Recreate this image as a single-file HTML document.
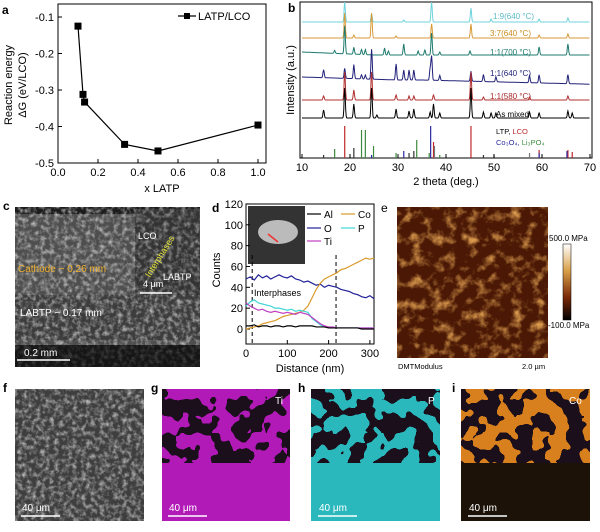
<!DOCTYPE html>
<html><head><meta charset="utf-8">
<style>
body{margin:0;background:#fff;}
svg{display:block;font-family:"Liberation Sans",Arial,sans-serif;}
</style></head>
<body>
<svg id="fig" width="600" height="532" viewBox="0 0 600 532" xmlns="http://www.w3.org/2000/svg">
<defs>
<filter id="semTex" x="0" y="0" width="1" height="1" color-interpolation-filters="sRGB">
 <feTurbulence type="fractalNoise" baseFrequency="0.22" numOctaves="3" seed="3"/>
 <feColorMatrix type="matrix" values="0 0 0 0 0.85  0 0 0 0 0.85  0 0 0 0 0.85  1.6 0 0 0 -0.65"/>
</filter>
<filter id="blotch" x="0" y="0" width="1" height="1" color-interpolation-filters="sRGB">
 <feTurbulence type="fractalNoise" baseFrequency="0.06" numOctaves="2" seed="7"/>
 <feComponentTransfer><feFuncA type="discrete" tableValues="0 0 1 1"/></feComponentTransfer>
 <feColorMatrix type="matrix" values="0 0 0 0 0.1  0 0 0 0 0.06  0 0 0 0 0.1  0 0 0 1 0"/>
</filter>
<filter id="afmTex" x="0" y="0" width="1" height="1" color-interpolation-filters="sRGB">
 <feTurbulence type="fractalNoise" baseFrequency="0.09" numOctaves="4" seed="11"/>
 <feColorMatrix type="matrix" values="0 0 0 0 0.85  0 0 0 0 0.6  0 0 0 0 0.3  2.6 0 0 0 -1.25"/>
</filter>
<linearGradient id="cbar" x1="0" y1="0" x2="0" y2="1">
 <stop offset="0" stop-color="#fff"/><stop offset="0.35" stop-color="#d9a04a"/><stop offset="0.7" stop-color="#7a2a08"/><stop offset="1" stop-color="#000"/>
</linearGradient>
</defs>

<!-- Panel a -->
<g id="pa">
 <text x="2" y="14" font-size="12" font-weight="bold">a</text>
 <rect x="58" y="4" width="208" height="159" fill="none" stroke="#000" stroke-width="1"/>
 <g id="pa-ticks"></g>
 <g id="pa-series"></g>
 <text x="162" y="192" font-size="11" text-anchor="middle">x LATP</text>
 <text transform="translate(12,85) rotate(-90)" font-size="11" text-anchor="middle">Reaction energy</text>
 <text transform="translate(26,85) rotate(-90)" font-size="11" text-anchor="middle">ΔG (eV/LCO)</text>
 <g>
  <line x1="178" y1="16" x2="196" y2="16" stroke="#000" stroke-width="1.2"/>
  <rect x="184" y="13" width="6" height="6" fill="#000"/>
  <text x="198" y="20" font-size="11">LATP/LCO</text>
 </g>
</g>

<!-- Panel b -->
<g id="pb">
 <text x="288" y="12" font-size="12" font-weight="bold">b</text>
 <rect x="300" y="2" width="292" height="156" fill="none" stroke="#000" stroke-width="1"/>
 <g id="pb-ref"></g>
 <g id="pb-series"></g>
 <g id="pb-ticks"></g>
 <text x="446" y="185" font-size="11" text-anchor="middle">2 theta (deg.)</text>
 <text transform="translate(294,80) rotate(-90)" font-size="11" text-anchor="middle">Intensity (a.u.)</text>
 <text x="493" y="19" font-size="8" fill="#5bbbc5">1:9(640 °C)</text>
 <text x="490" y="36" font-size="8" fill="#c98a1d">3:7(640 °C)</text>
 <text x="490" y="55" font-size="8" fill="#1e7a6e">1:1(700 °C)</text>
 <text x="490" y="76" font-size="8" fill="#22227a">1:1(640 °C)</text>
 <text x="490" y="99" font-size="8" fill="#a72b2b">1:1(580 °C)</text>
 <text x="496" y="117" font-size="8" fill="#000">As mixed</text>
 <text x="496" y="134" font-size="7.5"><tspan fill="#000">LTP, </tspan><tspan fill="#c0282a">LCO</tspan></text>
 <text x="496" y="145" font-size="7.5"><tspan fill="#2a2aa0">Co₃O₄, </tspan><tspan fill="#3e8a3e">Li₃PO₄</tspan></text>
</g>

<!-- Panel c -->
<g>
 <text x="3" y="210" font-size="12" font-weight="bold">c</text>
 <rect x="15" y="207" width="185" height="160" fill="#4e4e4e"/>
 <rect x="15" y="207" width="185" height="7" fill="#1c1c1c"/>
 <rect x="15" y="295" width="185" height="45" fill="#3c3c3c"/>
 <rect x="15" y="345" width="185" height="22" fill="#161616"/>
 <rect x="15" y="207" width="185" height="160" filter="url(#semTex)"/>
 <rect x="15" y="345" width="185" height="22" fill="#161616" opacity="0.7"/>
 <rect x="135" y="209" width="65" height="86" fill="#333"/>
 <rect x="135" y="209" width="65" height="86" filter="url(#semTex)" opacity="0.8"/>
 <text x="138" y="239" font-size="9" fill="#fff">LCO</text>
 <text transform="translate(150,278) rotate(-58)" font-size="9" fill="#e8e83c">Interphases</text>
 <text x="163" y="280" font-size="9" fill="#fff">LABTP</text>
 <line x1="140" y1="293" x2="172" y2="293" stroke="#fff" stroke-width="1.5"/>
 <text x="143" y="287" font-size="9" fill="#fff">4 μm</text>
 <text x="18" y="272" font-size="10" fill="#f0b030">Cathode ~ 0.26 mm</text>
 <text x="20" y="316" font-size="10" fill="#fff">LABTP ~ 0.17 mm</text>
 <line x1="17" y1="360" x2="70" y2="360" stroke="#fff" stroke-width="1.5"/>
 <text x="24" y="356" font-size="10" fill="#fff">0.2 mm</text>
</g>

<!-- Panel d -->
<g id="pd">
 <text x="212" y="212" font-size="12" font-weight="bold">d</text>
 <rect x="246" y="204" width="128" height="140" fill="none" stroke="#000" stroke-width="1"/>
 <rect x="248" y="206" width="57" height="58" fill="#333"/>
 <ellipse cx="278" cy="232" rx="20" ry="12" fill="#bbb"/>
 <line x1="268" y1="234" x2="278" y2="242" stroke="#e33" stroke-width="1.5"/>
 <g id="pd-ticks"></g>
 <g id="pd-series"></g>
 <text x="310" y="372" font-size="11" text-anchor="middle">Distance (nm)</text>
 <text transform="translate(220,270) rotate(-90)" font-size="11" text-anchor="middle">Counts</text>
 <text x="254" y="296" font-size="9">Interphases</text>
 <g font-size="10">
  <line x1="307" y1="214" x2="321" y2="214" stroke="#000" stroke-width="1.2"/><text x="324" y="218">Al</text>
  <line x1="341" y1="214" x2="355" y2="214" stroke="#d99a2a" stroke-width="1.2"/><text x="358" y="218">Co</text>
  <line x1="307" y1="228" x2="321" y2="228" stroke="#22229a" stroke-width="1.2"/><text x="324" y="232">O</text>
  <line x1="341" y1="228" x2="355" y2="228" stroke="#3fd6d6" stroke-width="1.2"/><text x="358" y="232">P</text>
  <line x1="307" y1="241" x2="321" y2="241" stroke="#c03fc0" stroke-width="1.2"/><text x="324" y="245">Ti</text>
 </g>
</g>

<!-- Panel e -->
<g>
 <text x="381" y="212" font-size="12">e</text>
 <rect x="397" y="207" width="151" height="151" fill="#4a1804"/>
 <rect x="397" y="207" width="151" height="151" filter="url(#afmTex)"/>
 <rect x="563" y="244" width="8" height="76" fill="url(#cbar)" stroke="#000" stroke-width="0.5"/>
 <text x="549" y="241" font-size="8">500.0 MPa</text>
 <text x="548" y="328" font-size="8">-100.0 MPa</text>
 <text x="398" y="369" font-size="7.5">DMTModulus</text>
 <text x="522" y="369" font-size="7.5">2.0 µm</text>
</g>

<!-- Bottom panels -->
<g>
 <text x="3" y="392" font-size="12" font-weight="bold">f</text>
 <rect x="15" y="389" width="129" height="132" fill="#3e3e3e"/>
 <rect x="15" y="389" width="129" height="132" filter="url(#semTex)"/>
 <line x1="21" y1="516" x2="60" y2="516" stroke="#fff" stroke-width="1.5"/>
 <text x="22" y="511" font-size="10" fill="#fff">40 μm</text>
</g>
<g>
 <text x="151" y="392" font-size="12" font-weight="bold">g</text>
 <rect x="162" y="389" width="128" height="132" fill="#b21ab8"/>
 <rect x="162" y="389" width="128" height="74" filter="url(#blotch)"/>
 <text x="275" y="404" font-size="10" fill="#fff">Ti</text>
 <line x1="168" y1="516" x2="207" y2="516" stroke="#fff" stroke-width="1.5"/>
 <text x="169" y="511" font-size="10" fill="#fff">40 μm</text>
</g>
<g>
 <text x="298" y="392" font-size="12" font-weight="bold">h</text>
 <rect x="311" y="389" width="129" height="132" fill="#2ab8bd"/>
 <rect x="311" y="389" width="129" height="74" filter="url(#blotch)"/>
 <text x="428" y="404" font-size="10" fill="#fff">P</text>
 <line x1="318" y1="516" x2="357" y2="516" stroke="#fff" stroke-width="1.5"/>
 <text x="319" y="511" font-size="10" fill="#fff">40 μm</text>
</g>
<g>
 <text x="452" y="392" font-size="12" font-weight="bold">i</text>
 <rect x="461" y="389" width="129" height="132" fill="#1c1208"/>
 <rect x="461" y="389" width="129" height="74" fill="#d9801e"/>
 <rect x="461" y="389" width="129" height="74" filter="url(#blotch)"/>
 <text x="569" y="404" font-size="10" fill="#fff">Co</text>
 <line x1="468" y1="516" x2="507" y2="516" stroke="#fff" stroke-width="1.5"/>
 <text x="469" y="511" font-size="10" fill="#fff">40 μm</text>
</g>
</svg>

<script>
// ---------- Panel a data ----------
const aX = [0.1, 0.125, 0.133, 0.333, 0.5, 1.0];
const aY = [-0.125, -0.312, -0.333, -0.449, -0.467, -0.396];
const aXTicks = [0.0, 0.2, 0.4, 0.6, 0.8, 1.0];
const aYTicks = [-0.1, -0.2, -0.3, -0.4, -0.5];

// ---------- Panel b data ----------
const bXTicks = [10, 20, 30, 40, 50, 60, 70];
const bSeriesNames = ['1:9(640 °C)', '3:7(640 °C)', '1:1(700 °C)', '1:1(640 °C)', '1:1(580 °C)', 'As mixed'];
const bBaselines = [22, 38, 55, 80, 100, 118];
const bPeaksMixed = [[14.5,8],[18.9,30],[20.8,14],[24.5,30],[25.6,3],[29.6,9],[32.3,7],[33.3,9],[36.7,6],[37.4,14],[38.7,5],[45.2,30],[47.8,6],[49.4,5],[50.4,5],[57.4,6],[59.4,5],[65.4,7],[66.3,5]];
const bPeaks580 = [[14.5,4],[18.9,28],[20.8,10],[24.5,28],[29.6,5],[32.3,4],[33.3,4],[37.4,5],[45.2,28],[47.8,3],[57.4,3],[65.4,4]];
const bPeaks640 = [[14.5,8],[18.9,10],[20.8,14],[22.4,4],[23.2,4],[24.5,30],[29.6,16],[31.2,10],[32.3,10],[33.3,10],[36.7,12],[37.0,24],[38.7,5],[45.2,10],[47.8,7],[50.4,5],[57.4,7],[59.4,8],[65.4,9]];
const bPeaks700 = [[16.8,3],[18.9,28],[20.8,7],[22.4,5],[23.2,5],[27.2,7],[28.0,4],[31.2,11],[34.2,4],[35.6,5],[37.0,22],[38.7,3],[45.0,4],[59.4,8],[65.4,11]];
const bPeaks37 = [[18.9,25],[20.8,3],[24.5,25],[29.6,2],[37.0,14],[45.2,14],[59.4,3],[65.4,4]];
const bPeaks19 = [[18.9,20],[24.5,8],[31.2,2],[37.0,20],[45.2,14],[49.4,3],[59.4,3],[65.4,4]];
const bRefLines = [[18.9,32,'#c0282a'],[45.2,32,'#c0282a'],[37.4,16,'#c0282a'],[59.4,8,'#c0282a'],[65.4,8,'#c0282a'],[66.3,6,'#c0282a'],
 [22.4,28,'#3e8a3e'],[23.2,28,'#3e8a3e'],[24.9,12,'#3e8a3e'],[33.9,18,'#3e8a3e'],[16.8,9,'#3e8a3e'],[29.6,5,'#3e8a3e'],[36.5,5,'#3e8a3e'],[38.7,3,'#3e8a3e'],
 [31.2,7,'#2a2aa0'],[36.8,32,'#2a2aa0'],[24.5,3,'#2a2aa0'],[59.4,5,'#2a2aa0'],[65.2,7,'#2a2aa0'],
 [14.5,3,'#333'],[20.8,10,'#333'],[32.3,5,'#333'],[33.3,7,'#333'],[37.6,12,'#777'],[47.8,3,'#333'],[50.0,3,'#333'],[57.4,5,'#777']];

// ---------- Panel d data ----------
const dX = [0,10,20,30,40,50,60,70,80,90,100,110,120,130,140,150,160,170,180,190,200,210,220,230,240,250,260,270,280,290,300,310];
const dAl = [3,3,4,2,3,3,2,3,3,2,3,3,2,3,3,3,3,2,2,2,1,1,1,1,1,1,1,1,0,0,0,0];
const dO = [48,50,47,52,49,51,48,50,52,50,49,51,48,47,45,46,44,42,43,40,42,41,40,38,37,36,34,33,31,30,32,29];
const dTi = [25,22,20,18,19,17,16,17,16,15,16,15,14,16,15,14,11,8,5,3,2,2,1,1,1,1,1,1,1,1,1,1];
const dP = [22,26,28,25,24,23,22,20,20,19,18,19,17,18,17,16,10,7,4,2,2,1,1,1,1,1,1,1,1,1,1,1];
const dCo = [0,1,2,3,5,6,7,8,10,12,13,14,15,16,18,22,30,38,44,48,50,52,54,57,58,60,62,64,66,68,67,68];
const dXTicks = [0,100,200,300];
const dYTicks = [0,20,40,60,80,100,120];

const NS='http://www.w3.org/2000/svg';
function mk(tag, attrs, parent){const e=document.createElementNS(NS,tag);for(const k in attrs)e.setAttribute(k,attrs[k]);parent.appendChild(e);return e;}

// Panel a
(function(){
 const sx=v=>58+v*200, sy=v=>17+(-0.1-v)*365;
 const t=document.getElementById('pa-ticks');
 aXTicks.forEach(v=>{mk('line',{x1:sx(v),y1:163,x2:sx(v),y2:159,stroke:'#000'},t);
  const tx=mk('text',{x:sx(v),y:176,'font-size':11,'text-anchor':'middle'},t);tx.textContent=v.toFixed(1);
  
  });
 aYTicks.forEach(v=>{mk('line',{x1:58,y1:sy(v),x2:62,y2:sy(v),stroke:'#000'},t);
  const tx=mk('text',{x:54,y:sy(v)+4,'font-size':11,'text-anchor':'end'},t);tx.textContent=v.toFixed(1);
  
  });
 const s=document.getElementById('pa-series');
 const pl=mk('polyline',{points:aX.map((x,i)=>sx(x)+','+sy(aY[i])).join(' '),fill:'none',stroke:'#000','stroke-width':1.2},s);
 
 
 aX.forEach((x,i)=>{const r=mk('rect',{x:sx(x)-3.5,y:sy(aY[i])-3.5,width:7,height:7,fill:'#000'},s);
  
  });
})();

// Panel b
(function(){
 const sx=v=>302+(v-10)*4.8;
 const t=document.getElementById('pb-ticks');
 bXTicks.forEach(v=>{mk('line',{x1:sx(v),y1:158,x2:sx(v),y2:154,stroke:'#000'},t);
  const tx=mk('text',{x:sx(v),y:171,'font-size':11,'text-anchor':'middle'},t);tx.textContent=v;
  
  });
 const r=document.getElementById('pb-ref');
 bRefLines.forEach(p=>{const l=mk('line',{x1:sx(p[0]),y1:158,x2:sx(p[0]),y2:158-p[1],stroke:p[2],'stroke-width':1.2},r);
  
  });
 const sets=[bPeaks19,bPeaks37,bPeaks700,bPeaks640,bPeaks580,bPeaksMixed];
 const cols=['#6fd3dc','#d99a3a','#1e7a6e','#22227a','#b03030','#000'];
 const s=document.getElementById('pb-series');
 sets.forEach((pk,k)=>{
  let pts=[];
  for(let d=10;d<=70;d+=0.1){
   let y=bBaselines[k];
   if(k===3){y+= -(d<30? (30-d)*0.15:0) + (d>35? (d-35)*0.12:0);}
   if(k===2){y+= -(d<25? (25-d)*0.2:0);}
   pk.forEach(p=>{y-=p[1]*Math.exp(-Math.pow((d-p[0])/0.18,2));});
   pts.push(sx(d).toFixed(1)+','+Math.max(2,y).toFixed(1));
  }
  const pl=mk('polyline',{points:pts.join(' '),fill:'none',stroke:cols[k],'stroke-width':1},s);
  
  
 });
})();

// Panel d
(function(){
 const sx=v=>246+v*0.413, sy=v=>329-v*1.042;
 const t=document.getElementById('pd-ticks');
 dXTicks.forEach(v=>{mk('line',{x1:sx(v),y1:344,x2:sx(v),y2:340,stroke:'#000'},t);
  const tx=mk('text',{x:sx(v),y:357,'font-size':11,'text-anchor':'middle'},t);tx.textContent=v;
  
  });
 dYTicks.forEach(v=>{mk('line',{x1:246,y1:sy(v),x2:250,y2:sy(v),stroke:'#000'},t);
  const tx=mk('text',{x:243,y:sy(v)+4,'font-size':11,'text-anchor':'end'},t);tx.textContent=v;
  
  });
 [15,218].forEach(v=>mk('line',{x1:sx(v),y1:255,x2:sx(v),y2:344,stroke:'#000','stroke-dasharray':'4,3'},t));
 const s=document.getElementById('pd-series');
 const ser=[[dO,'#22229a','o-line'],[dCo,'#d99a2a','co-line'],[dP,'#3fd6d6','p-line'],[dTi,'#c03fc0','ti-line'],[dAl,'#000','al-line']];
 ser.forEach(q=>{const pl=mk('polyline',{points:dX.map((x,i)=>sx(x)+','+sy(q[0][i])).join(' '),fill:'none',stroke:q[1],'stroke-width':1.2},s);
  
  });
})();
</script>
</body></html>
